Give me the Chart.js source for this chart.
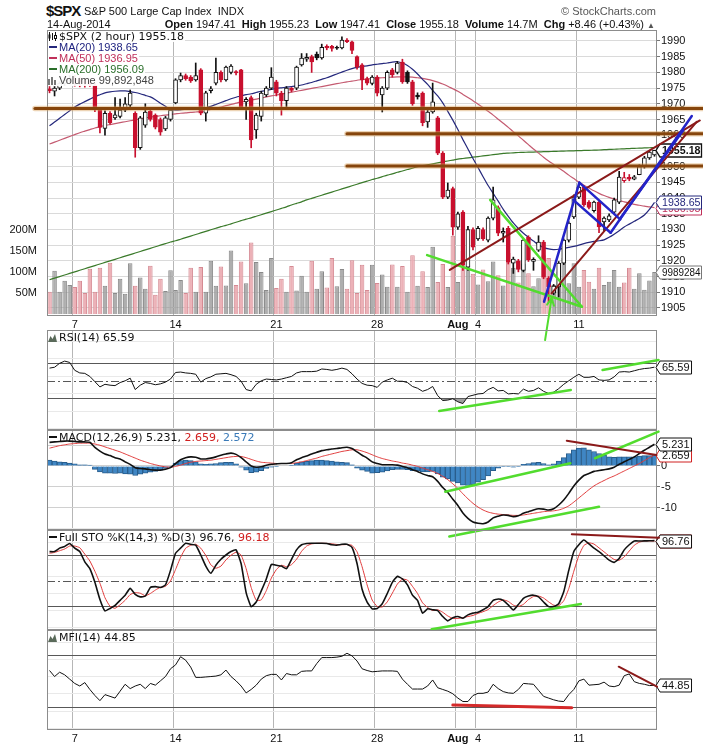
<!DOCTYPE html>
<html>
<head>
<meta charset="utf-8">
<title>$SPX 2 hour</title>
<script src="https://cdn.jsdelivr.net/npm/chart.js@4.4.1/dist/chart.umd.min.js"></script>
<style>
  html,body{margin:0;padding:0;background:#fff;}
  #wrap{position:relative;width:703px;height:748px;overflow:hidden;background:#fff;font-family:"Liberation Sans",Arial,sans-serif;color:#111;}
  canvas{position:absolute;left:0;}
  .t{position:absolute;white-space:nowrap;line-height:12px;font-size:11px;}
  .lg{position:absolute;left:48px;white-space:nowrap;font:11px "DejaVu Sans",sans-serif;line-height:11px;color:#111;}
  .ml{position:absolute;left:48px;white-space:nowrap;font:11px "Liberation Sans",Arial,sans-serif;line-height:11px;background:rgba(255,255,255,0.93);padding-right:1px;}
  .dash{display:inline-block;width:8px;height:2px;vertical-align:middle;margin:0 2px 2px 1px;}
  svg{vertical-align:-1px;margin-right:2px;}
</style>
</head>
<body>
<div id="wrap">
  <canvas id="cMain" width="703" height="325" style="top:20px"></canvas>
  <canvas id="cRsi" width="703" height="120" style="top:320px"></canvas>
  <canvas id="cMacd" width="703" height="125" style="top:420px"></canvas>
  <canvas id="cSto" width="703" height="120" style="top:520px"></canvas>
  <canvas id="cMfi" width="703" height="128" style="top:620px"></canvas>

  <div class="t" style="left:46px;top:2px;font:bold 15px 'Liberation Sans',Arial,sans-serif;letter-spacing:-1px;line-height:18px;">$SPX</div>
  <div class="t" style="left:84px;top:5px;">S&amp;P 500 Large Cap Index&nbsp; INDX</div>
  <div class="t" style="right:47px;top:5px;color:#555;">&copy; StockCharts.com</div>
  <div class="t" style="left:47px;top:18px;">14-Aug-2014</div>
  <div class="t" style="right:48px;top:18px;"><b>Open</b> 1947.41 &nbsp;<b>High</b> 1955.23 &nbsp;<b>Low</b> 1947.41 &nbsp;<b>Close</b> 1955.18 &nbsp;<b>Volume</b> 14.7M &nbsp;<b>Chg</b> +8.46 (+0.43%) <span style="font-size:8px;color:#555">&#9650;</span></div>

  <div class="lg" id="lgPx" style="top:31px;background:rgba(255,255,255,0.93);padding-right:1px;"></div>
  <div class="ml" id="lg20" style="top:42px;color:#1f2380"></div>
  <div class="ml" id="lg50" style="top:53px;color:#c0305a"></div>
  <div class="ml" id="lg200" style="top:64px;color:#2a6e2a"></div>
  <div class="ml" id="lgVol" style="top:75px;color:#444"></div>

  <div class="lg" id="lgRsi" style="top:332px"></div>
  <div class="lg" id="lgMacd" style="top:432px"></div>
  <div class="lg" id="lgSto" style="top:532px"></div>
  <div class="lg" id="lgMfi" style="top:632px"></div>
</div>
<script>
// ---------------- DATA ----------------
const preSessionBars = ['Jul 2','Jul 2','Jul 2','Jul 3','Jul 3'];
const sessionDays = ['Jul 7','Jul 8','Jul 9','Jul 10','Jul 11','Jul 14','Jul 15','Jul 16','Jul 17','Jul 18',
  'Jul 21','Jul 22','Jul 23','Jul 24','Jul 25','Jul 28','Jul 29','Jul 30','Jul 31','Aug 1',
  'Aug 4','Aug 5','Aug 6','Aug 7','Aug 8','Aug 11','Aug 12','Aug 13','Aug 14'];
const barsPerSession = 4;
const categories = preSessionBars.concat(...sessionDays.map(d => Array(barsPerSession).fill(d)));

const tickDays  = ['Jul 7','Jul 14','Jul 21','Jul 28','Aug 1','Aug 4','Aug 11'];
const tickTexts = ['7','14','21','28','Aug','4','11'];

const opens = [
 1974.8,1974.0,1975.0,1976.5,1977.5,1978.0,1977.6,1977.0,1976.8,1976.0,
 1968.0,1962.2,1967.0,1965.5,1966.0,1968.0,1969.6,1967.0,1956.0,1963.2,
 1967.7,1966.4,1965.0,1962.0,1965.0,1970.3,1977.6,1979.0,1978.5,1977.6,
 1980.8,1967.0,1974.2,1976.6,1980.0,1977.6,1980.0,1980.3,1980.8,1970.6,
 1972.0,1961.7,1966.0,1972.8,1975.0,1977.0,1973.4,1971.0,1975.0,1975.0,
 1982.4,1984.2,1985.0,1985.8,1984.6,1988.3,1988.3,1988.0,1987.8,1990.3,
 1989.7,1985.0,1982.4,1978.0,1976.5,1978.5,1972.8,1975.0,1980.8,1980.0,
 1983.3,1980.0,1977.0,1972.8,1973.4,1964.2,1967.4,1965.5,1954.3,1940.3,
 1943.0,1930.7,1935.5,1918.0,1930.0,1927.0,1930.0,1926.6,1933.6,1937.0,
 1928.8,1930.4,1919.3,1920.0,1917.0,1927.6,1919.8,1923.4,1926.0,1914.5,
 1909.7,1911.7,1919.3,1926.6,1934.0,1940.3,1943.5,1938.7,1936.0,1938.7,
 1932.4,1933.0,1935.5,1938.7,1945.5,1946.6,1946.0,1947.41,1950.0,1952.8,
 1953.7];
const highs = [
 1975.5,1975.5,1977.0,1978.5,1979.0,1979.0,1978.5,1978.0,1977.5,1976.5,
 1968.5,1967.8,1967.5,1972.0,1971.5,1972.0,1974.4,1967.5,1966.0,1970.0,
 1968.0,1966.8,1965.5,1966.0,1968.5,1978.0,1979.8,1979.5,1979.0,1983.0,
 1981.2,1974.0,1975.5,1984.6,1980.5,1982.0,1982.5,1980.6,1981.0,1972.0,
 1972.5,1967.0,1974.0,1975.5,1981.5,1977.5,1974.0,1975.5,1975.2,1982.0,
 1986.0,1986.0,1985.5,1986.5,1989.0,1988.8,1988.6,1988.4,1991.3,1990.8,
 1990.0,1985.3,1982.8,1978.5,1979.0,1979.0,1975.5,1980.5,1981.3,1983.5,
 1984.2,1980.5,1977.5,1973.5,1973.8,1968.0,1976.6,1966.0,1954.8,1944.8,
 1943.5,1935.5,1936.0,1931.0,1930.5,1931.0,1930.5,1934.0,1943.5,1937.5,
 1930.5,1931.0,1921.2,1920.5,1927.0,1928.0,1921.0,1928.0,1926.5,1915.0,
 1912.5,1919.8,1927.0,1932.5,1941.0,1944.5,1944.0,1939.2,1939.0,1939.2,
 1934.0,1935.0,1940.0,1948.5,1948.2,1947.5,1947.2,1950.6,1953.3,1955.0,
 1955.23];
const lows = [
 1973.5,1972.5,1974.5,1975.8,1976.5,1975.6,1975.4,1975.3,1975.5,1967.5,
 1960.7,1960.0,1963.5,1965.0,1965.5,1967.5,1969.0,1953.0,1955.5,1962.5,
 1964.5,1962.0,1960.0,1961.5,1964.5,1970.0,1977.0,1977.5,1976.8,1977.2,
 1966.5,1964.5,1973.5,1976.0,1977.0,1977.2,1979.5,1979.2,1968.5,1965.0,
 1956.0,1959.0,1964.5,1972.3,1974.5,1972.5,1966.4,1969.0,1973.8,1974.5,
 1982.0,1983.5,1980.0,1984.0,1984.2,1987.2,1986.8,1987.3,1987.5,1989.5,
 1986.0,1981.0,1974.5,1976.0,1976.0,1972.5,1967.4,1974.5,1978.5,1979.5,
 1976.5,1976.5,1969.5,1971.5,1963.0,1962.5,1967.0,1953.8,1939.8,1939.8,
 1928.2,1930.0,1917.0,1917.0,1923.5,1926.5,1926.5,1926.0,1933.0,1928.0,
 1926.0,1919.0,1916.0,1916.5,1916.5,1919.8,1917.0,1923.0,1914.3,1906.9,
 1909.2,1908.5,1918.8,1926.0,1933.5,1939.8,1937.3,1936.5,1935.5,1929.0,
 1929.5,1932.5,1935.0,1938.2,1945.0,1945.5,1945.8,1947.41,1949.5,1952.3,
 1953.3];
const closes = [
 1974.2,1975.0,1976.5,1977.5,1978.0,1977.6,1977.0,1976.8,1976.2,1968.5,
 1962.5,1967.0,1964.0,1966.5,1968.0,1970.0,1973.4,1956.0,1965.5,1967.4,
 1965.0,1962.6,1961.0,1965.5,1968.0,1977.6,1979.0,1978.0,1977.3,1979.0,
 1967.0,1973.5,1974.8,1980.0,1977.6,1981.7,1982.0,1979.8,1969.0,1971.4,
 1958.5,1966.4,1973.4,1975.0,1978.5,1973.4,1971.0,1975.0,1974.3,1981.7,
 1984.6,1984.8,1983.3,1984.6,1988.0,1987.8,1987.6,1987.7,1990.3,1989.8,
 1987.0,1981.7,1977.6,1976.6,1978.5,1973.4,1975.0,1980.0,1979.2,1983.0,
 1977.0,1977.0,1970.0,1972.2,1964.0,1967.4,1970.6,1954.3,1940.3,1942.5,
 1930.7,1935.0,1918.7,1930.0,1924.4,1930.4,1927.0,1933.6,1939.4,1928.8,
 1929.4,1919.6,1920.6,1917.3,1926.6,1920.3,1920.5,1926.0,1914.8,1911.7,
 1912.0,1919.3,1926.6,1932.0,1940.3,1943.5,1937.8,1937.0,1938.7,1930.8,
 1933.6,1934.3,1939.4,1946.7,1946.5,1946.0,1946.72,1950.0,1952.8,1954.6,
 1955.18];
// volume in millions of shares
const volumes = [
 53,103,53,79,69,64,79,50,108,53,
 110,67,122,50,84,48,121,67,87,60,
 115,46,84,55,104,57,81,50,110,53,
 112,53,127,67,113,68,151,69,125,73,
 170,124,100,57,133,62,84,53,114,56,
 91,53,127,60,102,63,133,66,107,60,
 128,50,117,57,117,74,94,65,118,65,
 114,53,140,67,102,64,160,76,119,64,
 186,76,150,118,96,70,106,78,125,92,
 68,145,110,75,120,97,66,85,140,133,
 69,101,133,73,121,65,105,77,60,110,
 69,77,105,65,75,110,60,97,58,80,
 99.892848];
const ma20 = [
 1963.0,1964.2,1965.4,1966.6,1967.8,1969.0,1969.9,1970.7,1971.5,1972.3,
 1972.9,1973.5,1973.8,1974.0,1974.1,1974.1,1973.9,1973.6,1973.2,1972.7,
 1972.2,1971.3,1970.2,1969.2,1968.3,1968.0,1968.1,1968.3,1968.5,1968.6,
 1968.7,1968.8,1969.2,1969.8,1970.4,1971.0,1971.6,1972.1,1972.5,1972.9,
 1973.2,1973.6,1974.0,1974.3,1974.6,1974.9,1975.1,1975.3,1975.5,1975.7,
 1976.0,1976.4,1976.8,1977.3,1977.8,1978.3,1978.9,1979.5,1980.1,1980.7,
 1981.2,1981.6,1981.9,1982.1,1982.4,1982.6,1982.8,1983.0,1983.3,1983.4,
 1983.0,1982.2,1981.0,1979.5,1977.8,1976.2,1974.3,1972.5,1970.3,1967.6,
 1964.8,1961.8,1958.6,1955.6,1952.6,1949.7,1946.8,1944.0,1941.5,1939.0,
 1936.4,1934.2,1932.1,1930.3,1928.8,1927.5,1926.3,1925.1,1924.2,1923.8,
 1923.6,1923.7,1924.0,1924.3,1924.6,1925.0,1925.5,1925.9,1926.2,1926.4,
 1926.7,1927.5,1928.5,1929.6,1930.8,1931.7,1932.6,1933.5,1934.6,1936.4,
 1938.65];
const ma50 = [
 1957.2,1957.8,1958.4,1959.0,1959.6,1960.2,1960.8,1961.3,1961.8,1962.3,
 1962.7,1963.1,1963.4,1963.7,1964.0,1964.3,1964.6,1964.9,1965.2,1965.5,
 1965.8,1966.0,1966.2,1966.4,1966.6,1966.8,1967.0,1967.1,1967.3,1967.4,
 1967.5,1967.8,1968.2,1968.6,1969.0,1969.4,1969.8,1970.2,1970.6,1970.9,
 1971.2,1971.5,1971.8,1972.2,1972.5,1972.8,1973.1,1973.4,1973.7,1974.0,
 1974.3,1974.6,1974.9,1975.2,1975.5,1975.8,1976.1,1976.4,1976.7,1977.0,
 1977.2,1977.5,1977.7,1977.9,1978.1,1978.2,1978.3,1978.4,1978.5,1978.6,
 1978.6,1978.6,1978.5,1978.3,1978.1,1977.8,1977.4,1976.9,1976.3,1975.6,
 1974.8,1974.0,1973.0,1972.0,1971.0,1969.9,1968.8,1967.6,1966.4,1965.1,
 1963.8,1962.5,1961.1,1959.8,1958.4,1957.0,1955.6,1954.3,1953.0,1951.8,
 1950.7,1949.6,1948.5,1947.3,1946.2,1945.1,1944.1,1943.2,1942.3,1941.5,
 1940.8,1940.2,1939.7,1939.2,1938.8,1938.4,1938.0,1937.7,1937.4,1937.2,
 1936.95];
const ma200 = [
 1914.0,1914.5,1915.0,1915.5,1916.0,1916.5,1917.0,1917.5,1918.0,1918.5,
 1919.0,1919.5,1920.0,1920.5,1921.0,1921.5,1922.0,1922.5,1923.0,1923.5,
 1924.0,1924.5,1925.0,1925.5,1926.0,1926.4,1926.9,1927.4,1927.9,1928.4,
 1928.9,1929.4,1929.9,1930.4,1930.9,1931.3,1931.8,1932.3,1932.8,1933.3,
 1933.7,1934.2,1934.7,1935.2,1935.7,1936.2,1936.7,1937.2,1937.8,1938.3,
 1938.8,1939.4,1939.9,1940.4,1940.9,1941.4,1941.9,1942.4,1942.9,1943.4,
 1943.9,1944.4,1944.9,1945.4,1945.9,1946.3,1946.8,1947.3,1947.7,1948.2,
 1948.6,1949.1,1949.5,1950.0,1950.3,1950.6,1950.9,1951.2,1951.5,1951.8,
 1952.1,1952.4,1952.6,1952.8,1953.0,1953.2,1953.4,1953.6,1953.8,1954.0,
 1954.2,1954.3,1954.4,1954.5,1954.55,1954.6,1954.65,1954.7,1954.75,1954.8,
 1954.85,1954.9,1954.95,1955.0,1955.05,1955.1,1955.15,1955.2,1955.25,1955.3,
 1955.4,1955.47,1955.54,1955.61,1955.68,1955.75,1955.82,1955.89,1955.95,1956.02,
 1956.09];
const rsi = [
 64.5,65.5,70,72.5,71,62,59,58.5,55,49,
 43,46,45,44.5,48,50,53,40,45,48,
 47,45.5,46.5,48.5,52,59.5,60,59,58.5,57.5,
 48.5,52.5,54.5,57.5,58,58.5,57,55,49.5,40,
 38.5,46,50,52,51.5,51,52,53.5,55,59,
 60.5,60.5,60.5,61,63.5,63,62,63,64.5,63,
 58,52,47,45,44.5,42.5,48.5,51,53,49.5,
 49.5,48,43.5,41.5,38,40,43.5,33,27.5,28,
 29.5,26,24,32,33.5,35,35.5,40,42.5,38.5,
 39,35,35.5,35,40.5,38,39,42,38,35.5,
 37,41,46,50,54,57.5,54,54,55,51,
 50.5,51,54.5,60,60.5,60,61.5,63,64,64.5,
 65.59];
const macd = [
 5.7,5.8,5.9,6.0,6.0,5.9,5.8,5.8,5.7,4.5,
 3.6,2.9,2.5,2.0,1.7,1.0,0.4,-0.4,-0.6,-0.7,
 -0.9,-1.0,-1.0,-0.8,-0.4,0.6,1.5,2.0,2.2,2.1,
 1.7,1.7,1.9,2.2,2.6,2.9,3.1,2.8,2.0,1.0,
 0.0,-0.3,-0.2,0.2,0.4,0.5,0.6,0.6,0.8,1.5,
 2.0,2.4,2.9,3.3,3.7,3.9,4.1,4.2,4.4,4.5,
 4.2,3.4,2.6,1.9,1.0,0.6,0.3,0.3,0.3,0.2,
 -0.1,-0.4,-0.9,-1.3,-1.9,-2.3,-2.6,-3.7,-5.2,-6.4,
 -8.0,-9.5,-11.3,-12.6,-13.5,-13.8,-13.9,-13.5,-12.5,-12.1,
 -11.8,-11.9,-12.2,-12.0,-11.4,-11.0,-10.6,-10.3,-10.4,-10.6,
 -10.3,-9.4,-8.2,-6.6,-4.8,-3.4,-2.3,-1.8,-1.3,-1.1,
 -0.9,-0.7,-0.3,0.4,1.0,1.6,2.2,3.0,3.8,4.5,
 5.231];
const macdSignal = [
 4.3,4.6,4.9,5.1,5.3,5.4,5.5,5.5,5.5,5.3,
 5.0,4.6,4.2,3.8,3.4,2.9,2.4,1.9,1.4,1.0,
 0.6,0.3,0.0,-0.2,-0.3,-0.1,0.2,0.6,0.9,1.1,
 1.2,1.3,1.4,1.6,1.8,2.0,2.2,2.3,2.3,2.0,
 1.6,1.2,0.9,0.8,0.7,0.6,0.6,0.6,0.6,0.8,
 1.0,1.3,1.6,1.9,2.3,2.6,2.9,3.2,3.5,3.7,
 3.9,3.9,3.6,3.2,2.7,2.2,1.8,1.5,1.2,1.0,
 0.7,0.5,0.2,-0.1,-0.5,-0.9,-1.3,-1.8,-2.5,-3.3,
 -4.3,-5.4,-6.7,-7.9,-9.0,-9.9,-10.6,-11.1,-11.4,-11.6,
 -11.7,-11.8,-11.9,-11.9,-11.8,-11.6,-11.4,-11.2,-11.0,-10.9,
 -10.8,-10.6,-10.2,-9.6,-8.7,-7.7,-6.7,-5.7,-4.8,-4.1,
 -3.5,-2.9,-2.4,-1.8,-1.2,-0.6,0.0,0.6,1.3,2.0,
 2.659];
const macdHist = [
 1.4,1.2,1.0,0.9,0.7,0.5,0.3,0.3,0.2,-0.8,
 -1.4,-1.7,-1.7,-1.8,-1.7,-1.9,-2.0,-2.3,-2.0,-1.7,
 -1.5,-1.3,-1.0,-0.6,-0.1,0.7,1.3,1.4,1.3,1.0,
 0.5,0.4,0.5,0.6,0.8,0.9,0.9,0.5,-0.3,-1.0,
 -1.6,-1.5,-1.1,-0.6,-0.3,-0.1,0.0,0.0,0.2,0.7,
 1.0,1.1,1.3,1.4,1.4,1.3,1.2,1.0,0.9,0.8,
 0.3,-0.5,-1.0,-1.3,-1.7,-1.6,-1.5,-1.2,-0.9,-0.8,
 -0.8,-0.9,-1.1,-1.2,-1.4,-1.4,-1.3,-1.9,-2.7,-3.1,
 -3.7,-4.1,-4.6,-4.7,-4.5,-3.9,-3.3,-2.4,-1.1,-0.5,
 -0.1,-0.1,-0.3,-0.1,0.4,0.6,0.8,0.9,0.6,0.3,
 0.5,1.2,2.0,3.0,3.9,4.3,4.4,3.9,3.5,3.0,
 2.6,2.2,2.1,2.2,2.2,2.2,2.2,2.4,2.5,2.5,
 2.572];
const stoK = [
 84,84,88,90,93.5,88,84,72,64,48,
 28,14.5,17.5,21,27,33,41,34,31,32,
 42,43,42,45,62,82,88,93.7,92.5,91.5,
 80,67,58.6,68,75,80,84,86,70,36,
 19.6,25,38,52,69,68,67,64,75,86,
 92,93.5,93.7,93.7,93.7,93.5,92,91.5,92.5,92.5,
 89,70,40,25,17,17.5,23,35,48,55,
 52,45,33,27,12,17,16,15,8,3,
 6.5,8,6,10,12,13,16,19.6,27,28.6,
 27,21.6,15.7,22,29.3,32,33,31,25,19.6,
 19.6,23,37,62,84,92,97.5,93,88,84,
 79,74,71.4,76,86,92,96.4,96.4,96.5,96.6,
 96.76];
const stoD = [
 82,83,85,87,90.5,90.5,88.5,81,73,61,
 47,30,20,17.7,21.8,27,33.7,36,35.3,32.3,
 35,39,42.3,43.3,49.7,63,77.3,87.9,91.4,92.6,
 88,79.5,68.5,64.5,67,74.3,79.7,83.3,80,64,
 42,27,27.5,38.3,53,63,68,66.3,68.7,75,
 84.3,90.5,93,93.6,93.7,93.6,93.1,92.3,92,92.2,
 91.3,83.8,66.3,45,27.3,19.8,19.2,25.2,35.3,46,
 51.7,50.7,43.3,35,24,18.7,15,16,13,8.7,
 5.8,5.8,6.8,8,9.3,11.7,13.7,16.2,20.9,25,
 27.5,25.7,21.4,19.8,22.3,27.8,31.4,32,29.7,25.2,
 21.4,20.7,26.5,40.7,61,79.3,91.2,94.2,92.8,88.3,
 83.7,79,74.8,73.8,77.8,84.7,91.5,95,96.4,96.5,
 96.18];
const mfi = [
 62,55,60,57,52,47,44,48,40,33,
 27,34,32,30,38,46,41,44,46,41,
 47,45,50,55,64,68.5,78,74,66,54,
 54,54.5,55,55.5,57,62.5,55,50,44,36,
 40,45,52,56,57.5,57.5,51,58.5,57,57,
 61,61.5,61.5,70,77,77,77,77.5,78.5,82,
 79,73,64,62,60.5,61,61.5,61.5,61.5,61,
 52,46,40.5,40.5,40.5,44,51,42,40,38,
 35,30,26,26,33,35.5,35.5,37,46,41,
 37.5,36,35.5,40,47,46.5,46,39,32,30,
 28,26.5,26,34,40,50,52,45,45.5,46,
 48.5,44,43.2,45,56,58,49,47,46,44.5,
 44.85];

// axis ticks
const priceTicks = [1905,1910,1915,1920,1925,1930,1935,1940,1945,1950,1955,1960,1965,1970,1975,1980,1985,1990];
const volTicks = [50,100,150,200];
const oscGrid = [-5,0,5,10,15,20,25,30,35,40,45,50,55,60,65,70,75,80,85,90,95,100,105];
const rsiLabels = [10,30,50,70,90];
const macdGrid = [-15,-12.5,-10,-7.5,-5,-2.5,0,2.5,5,7.5];
const macdLabels = [-10,-5,0,5];
const stoLabels = [20,50,80];
const mfiLabels = [20,50,80];

// hand-drawn annotation lines: [startBar, startValue, endBar, endValue]
const resistanceLevels = [1968.5, 1960.5, 1950.2];
const resistanceStartBar = [-2.9, 59.0, 59.0];
const resistanceEndBar = 129.8;
const risingWedge = [[79.4,1917.1,129.0,1964.7],[99.6,1909.65,128.4,1964.3]];
const flagLines = [[98.1,1907.0,105.1,1944.9],[105.1,1944.9,113.2,1933.2],[103.9,1939.4,111.3,1928.95],[111.3,1928.95,127.4,1966.1],[113.2,1933.5,125.7,1961.6]];
const fallingWedge = [[87.4,1939.4,105.6,1905.4],[74.9,1921.85,105.6,1905.4]];
const bottomArrow = [[98.3,1894.8,99.6,1908.15]];
const rsiTrends = [[77.3,15.5,103.4,39.5],[109.7,62.3,120.8,73.8]];
const macdUpTrends = [[78.5,-6.19,103.3,0.65],[108.2,1.86,120.8,8.27],[79.3,-17.0,109.0,-9.8]];
const macdDownTrend = [[102.6,6.1,120.4,2.65]];
const stoUpTrend = [[75.8,-6.9,105.4,22.7]];
const stoDownTrend = [[103.6,104.2,120.9,100.2]];
const mfiSupport = [[80.0,21.9,103.6,18.8]];
const mfiDownTrend = [[112.9,66.4,120.5,43.2]];

// ---------------- STYLE / HELPERS ----------------
const LAST = closes.length - 1;
const RED = '#c8102e';
const GREEN = '#52dc2e';
const MAROON = '#8b1a1a';
const BLUE = '#2424c8';
const BROWN = '#86450c';
const AXFONT = {family:'"Liberation Sans", Arial, sans-serif', size:11};
Chart.defaults.font.family = '"Liberation Sans", Arial, sans-serif';

function isUp(i){ return i === 0 ? closes[0] >= opens[0] : closes[i] >= closes[i-1]; }
function tickIdx(i){
  if (i == null || i < 0 || i >= categories.length) return -1;
  if (i > 0 && categories[i] === categories[i-1]) return -1;
  return tickDays.indexOf(categories[i]);
}
function xScale(showLabels){
  return {
    type:'category', offset:true,
    grid:{ offset:true, drawTicks:false, lineWidth:1,
      color: c => tickIdx(c.index) >= 0 ? '#b6b6b6' : 'rgba(0,0,0,0)' },
    border:{ display:false },
    ticks:{ display:showLabels, autoSkip:false, maxRotation:0, minRotation:0, padding:2, color:'#111',
      font: c => ({family:AXFONT.family, size:11, weight:(c.tick && c.tick.label === 'Aug') ? 'bold' : 'normal'}),
      callback: (v, i) => { const k = tickIdx(i); return k >= 0 ? tickTexts[k] : ''; } },
    afterFit: s => { s.height = showLabels ? 14 : 0; }
  };
}
function panelY(min, max, gridVals, labelVals){
  return {
    type:'linear', position:'right', min, max,
    afterBuildTicks: s => { s.ticks = gridVals.map(v => ({value:v})); },
    ticks:{ font:AXFONT, color:'#111', padding:1,
      callback: v => labelVals.includes(v) ? String(v) : '' },
    grid:{ drawTicks:true, tickLength:3,
      color: c => (c.tick && labelVals.includes(c.tick.value)) ? '#d0d0d0' : '#e9e9e9',
      tickColor: c => (c.tick && labelVals.includes(c.tick.value)) ? '#777' : 'rgba(0,0,0,0)' },
    border:{ display:false },
    afterFit: s => { s.width = 46; }
  };
}
function drawBox(ctx, tip, y, b){
  y = Math.round(y) + 0.5;
  ctx.font = (b.bold ? 'bold 11px ' : '11px ') + '"Liberation Sans", Arial, sans-serif';
  const x0 = tip + 4, h = 13;
  const right = Math.min(x0 + ctx.measureText(b.text).width + 4, 701.5);
  ctx.beginPath();
  ctx.moveTo(tip, y); ctx.lineTo(x0, y - h/2); ctx.lineTo(right, y - h/2);
  ctx.lineTo(right, y + h/2); ctx.lineTo(x0, y + h/2); ctx.closePath();
  ctx.fillStyle = '#fff'; ctx.fill();
  ctx.setLineDash([]); ctx.lineWidth = b.bold ? 1.3 : 1; ctx.strokeStyle = b.border; ctx.stroke();
  ctx.fillStyle = b.color; ctx.textAlign = 'left'; ctx.textBaseline = 'middle';
  ctx.fillText(b.text, x0 + 2, y + 0.5, right - x0 - 3);
}
function makePanel(opts){
  return {
    id:'panelDecor',
    beforeDatasetsDraw(chart){
      const {ctx, chartArea:a} = chart; const ys = chart.scales[opts.yId];
      ctx.save();
      ctx.beginPath(); ctx.rect(a.left, a.top, a.right - a.left, a.bottom - a.top); ctx.clip();
      (opts.refLines || []).forEach(r => {
        const y = Math.round(ys.getPixelForValue(r.v)) + 0.5;
        ctx.beginPath(); ctx.setLineDash(r.dash ? [8,3,2,3] : []);
        ctx.strokeStyle = '#585858'; ctx.lineWidth = 1;
        ctx.moveTo(a.left, y); ctx.lineTo(a.right, y); ctx.stroke();
      });
      ctx.restore();
    },
    afterDraw(chart){
      const {ctx, chartArea:a} = chart; const xs = chart.scales.x; const ys = chart.scales[opts.yId];
      ctx.save();
      ctx.setLineDash([]); ctx.strokeStyle = '#8c8c8c'; ctx.lineWidth = 1;
      ctx.strokeRect(a.left + 0.5, a.top + 0.5, a.right - a.left - 1, a.bottom - a.top - 1);
      (opts.boxes || []).forEach(b => drawBox(ctx, a.right - 1, chart.scales[b.yId || opts.yId].getPixelForValue(b.v), b));
      (opts.trends || []).forEach(t => {
        t.segs.forEach(s => {
          const x1 = xs.getPixelForValue(s[0]), y1 = ys.getPixelForValue(s[1]);
          const x2 = xs.getPixelForValue(s[2]), y2 = ys.getPixelForValue(s[3]);
          ctx.lineCap = 'round';
          if (t.halo){
            ctx.beginPath(); ctx.strokeStyle = t.halo; ctx.lineWidth = t.width + 2.5;
            ctx.moveTo(x1, y1); ctx.lineTo(x2, y2); ctx.stroke();
          }
          ctx.beginPath(); ctx.strokeStyle = t.color; ctx.lineWidth = t.width;
          ctx.moveTo(x1, y1); ctx.lineTo(x2, y2); ctx.stroke();
          if (t.arrow){
            const ang = Math.atan2(y2 - y1, x2 - x1), L = 8;
            ctx.beginPath();
            ctx.moveTo(x2 - L*Math.cos(ang - 0.45), y2 - L*Math.sin(ang - 0.45));
            ctx.lineTo(x2, y2);
            ctx.lineTo(x2 - L*Math.cos(ang + 0.45), y2 - L*Math.sin(ang + 0.45));
            ctx.stroke();
          }
        });
      });
      ctx.restore();
    }
  };
}
const baseOpts = (pad) => ({
  responsive:false, animation:false, events:[],
  layout:{ padding:pad },
  plugins:{ legend:{display:false}, tooltip:{enabled:false} }
});

// ---------------- MAIN PRICE CHART ----------------
new Chart(document.getElementById('cMain'), {
  type:'bar',
  data:{ labels:categories, datasets:[
    { label:'Volume', data:volumes, yAxisID:'yVol', grouped:false, order:10,
      barPercentage:1, categoryPercentage:0.9, borderWidth:1,
      backgroundColor: c => isUp(c.dataIndex) ? 'rgba(160,160,160,0.85)' : 'rgba(234,168,175,0.9)',
      borderColor: c => isUp(c.dataIndex) ? '#8a8a8a' : '#d58a93' },
    { type:'line', label:'MA(200)', data:ma200, yAxisID:'y', order:6, borderColor:'#3a7a2a', borderWidth:1.2, pointRadius:0, tension:0.2 },
    { type:'line', label:'MA(50)', data:ma50, yAxisID:'y', order:5, borderColor:'#c45a70', borderWidth:1.2, pointRadius:0, tension:0.2 },
    { type:'line', label:'MA(20)', data:ma20, yAxisID:'y', order:4, borderColor:'#25287c', borderWidth:1.2, pointRadius:0, tension:0.2 },
    { label:'wick', data:lows.map((l, i) => [l, highs[i]]), yAxisID:'y', grouped:false, order:3,
      barThickness:1, backgroundColor: c => isUp(c.dataIndex) ? '#111' : RED },
    { label:'body', data:opens.map((o, i) => [o, closes[i]]), yAxisID:'y', grouped:false, order:2,
      barThickness:4, borderWidth:1, borderSkipped:false,
      backgroundColor: c => closes[c.dataIndex] >= opens[c.dataIndex] ? '#fff' : (isUp(c.dataIndex) ? '#111' : RED),
      borderColor: c => isUp(c.dataIndex) ? '#111' : RED }
  ]},
  options: Object.assign(baseOpts({top:10, bottom:15, left:0, right:0}), {
    scales:{
      x: xScale(true),
      y: { type:'linear', position:'right', min:1902.45, max:1993.5,
        afterBuildTicks: s => { s.ticks = priceTicks.map(v => ({value:v})); },
        ticks:{ font:AXFONT, color:'#111', padding:1, callback: v => String(v) },
        grid:{ color:'#dadada', drawTicks:true, tickLength:3, tickColor:'#777' },
        border:{ display:false },
        afterFit: s => { s.width = 46; } },
      yVol: { type:'linear', position:'left', min:-4.76, max:676,
        afterBuildTicks: s => { s.ticks = volTicks.map(v => ({value:v})); },
        ticks:{ font:AXFONT, color:'#111', padding:2, callback: v => v + 'M' },
        grid:{ display:false }, border:{ display:false },
        afterFit: s => { s.width = 47; } }
    }
  }),
  plugins:[ makePanel({ yId:'y',
    boxes:[
      { v:ma50[LAST], text:ma50[LAST].toFixed(2), border:'#c0305a', color:'#c0305a' },
      { v:ma20[LAST], text:ma20[LAST].toFixed(2), border:'#25287c', color:'#25287c' },
      { v:closes[LAST], text:closes[LAST].toFixed(2), border:'#111', color:'#111', bold:true },
      { v:volumes[LAST], yId:'yVol', text:String(Math.round(volumes[LAST]*1e6)).slice(0,7), border:'#777', color:'#111' }
    ],
    trends:[
      { segs:resistanceLevels.map((lv, k) => [resistanceStartBar[k], lv, resistanceEndBar, lv]), color:BROWN, width:3, halo:'rgba(214,160,90,0.45)' },
      { segs:fallingWedge, color:GREEN, width:2.5 },
      { segs:bottomArrow, color:GREEN, width:2, arrow:true },
      { segs:risingWedge, color:MAROON, width:2 },
      { segs:flagLines, color:BLUE, width:2.5 }
    ]}) ]
});

// ---------------- RSI ----------------
new Chart(document.getElementById('cRsi'), {
  type:'line',
  data:{ labels:categories, datasets:[
    { data:rsi, borderColor:'#111', borderWidth:1, pointRadius:0, tension:0,
      fill:{ target:{value:30}, above:'rgba(0,0,0,0)', below:'rgba(95,95,95,0.6)' } } ]},
  options: Object.assign(baseOpts({top:10, bottom:10, left:47, right:0}), {
    scales:{ x: xScale(false), y: panelY(-6.23, 108.06, oscGrid, rsiLabels) } }),
  plugins:[ makePanel({ yId:'y',
    refLines:[{v:70},{v:30},{v:50, dash:true}],
    boxes:[{ v:rsi[LAST], text:rsi[LAST].toFixed(2), border:'#111', color:'#111' }],
    trends:[{ segs:rsiTrends, color:GREEN, width:2.5 }] }) ]
});

// ---------------- MACD ----------------
new Chart(document.getElementById('cMacd'), {
  type:'bar',
  data:{ labels:categories, datasets:[
    { data:macdHist, order:3, barPercentage:1, categoryPercentage:1, backgroundColor:'#3f86c4', borderColor:'#285d8c', borderWidth:1 },
    { type:'line', data:macdSignal, order:2, borderColor:'#e03a3a', borderWidth:1, pointRadius:0, tension:0.2 },
    { type:'line', data:macd, order:1, borderColor:'#111', borderWidth:1.6, pointRadius:0, tension:0.2 } ]},
  options: Object.assign(baseOpts({top:10, bottom:15, left:47, right:0}), {
    scales:{ x: xScale(false), y: panelY(-15.42, 8.67, macdGrid, macdLabels) } }),
  plugins:[ makePanel({ yId:'y',
    boxes:[
      { v:macdSignal[LAST], text:macdSignal[LAST].toFixed(3), border:'#d02020', color:'#111' },
      { v:macd[LAST], text:macd[LAST].toFixed(3), border:'#111', color:'#111' } ],
    trends:[ { segs:macdUpTrends, color:GREEN, width:2.5 }, { segs:macdDownTrend, color:MAROON, width:2 } ] }) ]
});

// ---------------- FULL STOCHASTIC ----------------
new Chart(document.getElementById('cSto'), {
  type:'line',
  data:{ labels:categories, datasets:[
    { data:stoD, order:2, borderColor:'#e03a3a', borderWidth:1, pointRadius:0, tension:0.15 },
    { data:stoK, order:1, borderColor:'#111', borderWidth:1.6, pointRadius:0, tension:0.15 } ]},
  options: Object.assign(baseOpts({top:10, bottom:10, left:47, right:0}), {
    scales:{ x: xScale(false), y: panelY(-7.72, 109.24, oscGrid, stoLabels) } }),
  plugins:[ makePanel({ yId:'y',
    refLines:[{v:80},{v:20},{v:50, dash:true}],
    boxes:[
      { v:stoD[LAST], text:stoD[LAST].toFixed(2), border:'#d02020', color:'#d02020' },
      { v:stoK[LAST], text:stoK[LAST].toFixed(2), border:'#111', color:'#111' } ],
    trends:[ { segs:stoUpTrend, color:GREEN, width:2.5 }, { segs:stoDownTrend, color:MAROON, width:2 } ] }) ]
});

// ---------------- MFI ----------------
new Chart(document.getElementById('cMfi'), {
  type:'line',
  data:{ labels:categories, datasets:[
    { data:mfi, borderColor:'#111', borderWidth:1, pointRadius:0, tension:0 } ]},
  options: Object.assign(baseOpts({top:10, bottom:4, left:47, right:0}), {
    scales:{ x: xScale(true), y: panelY(-7.04, 109.0, oscGrid, mfiLabels) } }),
  plugins:[ makePanel({ yId:'y',
    refLines:[{v:80},{v:20}],
    boxes:[{ v:mfi[LAST], text:mfi[LAST].toFixed(2), border:'#111', color:'#111' }],
    trends:[ { segs:mfiSupport, color:'#d42a2a', width:3 }, { segs:mfiDownTrend, color:MAROON, width:2 } ] }) ]
});

// ---------------- LEGENDS (text) ----------------
const candleIcon = '<svg width="9" height="9"><path d="M1.5 0v9M4.5 1v7M7.5 0v9" stroke="#111"/><rect x="0.5" y="2.5" width="2" height="4" fill="#111"/><rect x="6.5" y="3.5" width="2" height="3" fill="#fff" stroke="#111"/></svg>';
const volIcon = '<svg width="9" height="9"><rect x="0" y="3" width="2" height="6" fill="#777"/><rect x="3" y="1" width="2" height="8" fill="#777"/><rect x="6" y="4" width="2" height="5" fill="#777"/></svg>';
const mtnIcon = '<svg width="9" height="9"><path d="M0 9L2.5 3 4.5 6 7 1 9 9Z" fill="#5a6a5a"/></svg>';
const dash = c => '<span class="dash" style="background:' + c + '"></span>';
document.getElementById('lgPx').innerHTML = candleIcon + '$SPX (2 hour) ' + closes[LAST].toFixed(2);
document.getElementById('lg20').innerHTML = dash('#25287c') + 'MA(20) ' + ma20[LAST].toFixed(2);
document.getElementById('lg50').innerHTML = dash('#c0305a') + 'MA(50) ' + ma50[LAST].toFixed(2);
document.getElementById('lg200').innerHTML = dash('#2a6e2a') + 'MA(200) ' + ma200[LAST].toFixed(2);
document.getElementById('lgVol').innerHTML = volIcon + 'Volume ' + Math.round(volumes[LAST]*1e6).toLocaleString('en-US');
document.getElementById('lgRsi').innerHTML = mtnIcon + 'RSI(14) ' + rsi[LAST].toFixed(2);
document.getElementById('lgMacd').innerHTML = dash('#111') + 'MACD(12,26,9) ' + macd[LAST].toFixed(3) + ', <span style="color:#d02020">' + macdSignal[LAST].toFixed(3) + ',</span> <span style="color:#3a7ab8">' + macdHist[LAST].toFixed(3) + '</span>';
document.getElementById('lgSto').innerHTML = dash('#111') + 'Full STO %K(14,3) %D(3) ' + stoK[LAST].toFixed(2) + ', <span style="color:#d02020">' + stoD[LAST].toFixed(2) + '</span>';
document.getElementById('lgMfi').innerHTML = mtnIcon + 'MFI(14) ' + mfi[LAST].toFixed(2);
</script>
</body>
</html>
